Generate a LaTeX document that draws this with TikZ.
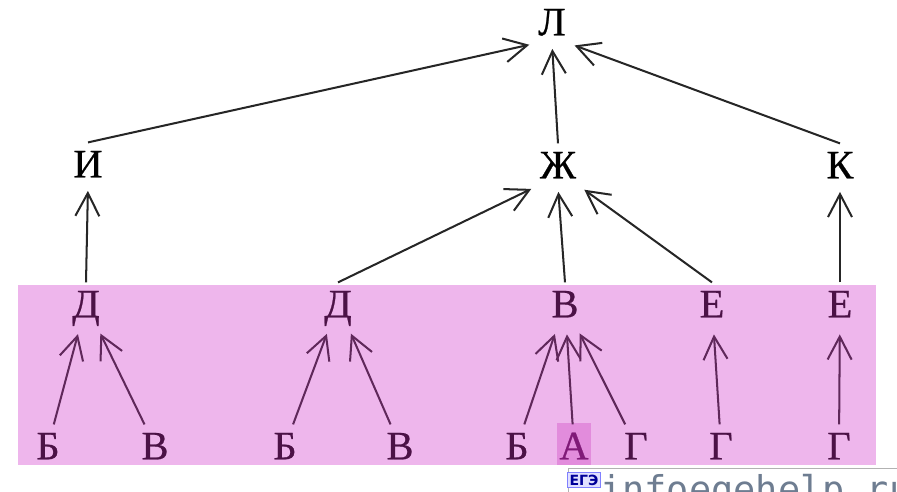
\documentclass[tikz,border=0pt]{standalone}
\usepackage{fontspec}
\setmainfont{Liberation Serif}
\newfontfamily\letterfont{Liberation Serif}[FakeBold=0.6]
\newfontfamily\wmfont{DejaVu Sans Mono}
\newfontfamily\logofont{DejaVu Sans}
\usetikzlibrary{arrows.meta}
\definecolor{bandpink}{RGB}{238,182,236}
\definecolor{markpink}{RGB}{226,140,220}
\definecolor{plum}{RGB}{75,18,70}
\definecolor{plumline}{RGB}{95,40,90}
\definecolor{apink}{RGB}{128,26,120}
\definecolor{wmgray}{RGB}{110,125,145}

\begin{document}
\begin{tikzpicture}[
    x=0.02cm, y=-0.02cm,
    letter/.style={inner xsep=2pt, inner ysep=4.5pt, text height=15.2pt, text depth=0pt,
                   font=\letterfont\fontsize{23}{26}\selectfont},
    inband/.style={letter, text=plum},
    arr/.style={-{Straight Barb[length=4.6mm, width=4.8mm]}, line width=1.15pt,
                color=black!85, shorten >=3pt},
    barr/.style={arr, color=plumline, shorten >=5pt}
]
\useasboundingbox (0,0) rectangle (897,491);

% pink band and the marked leaf
\fill[bandpink] (18,285) rectangle (876,465);
\fill[markpink] (557,423) rectangle (591,465);

\node[letter] (L)  at (552,22)  {Л};
\node[letter] (I)  at (88,164)  {И};
\node[letter] (Zh) at (558,165) {Ж};
\node[letter] (K)  at (840,165) {К};

\node[inband] (D1) at (86,304)  {Д};
\node[inband] (D2) at (338,304) {Д};
\node[inband] (V1) at (565,304) {В};
\node[inband] (E1) at (712,304) {Е};
\node[inband] (E2) at (840,304) {Е};

\node[inband] (B1) at (48,446)  {Б};
\node[inband] (V2) at (155,446) {В};
\node[inband] (B2) at (285,446) {Б};
\node[inband] (V3) at (400,446) {В};
\node[inband] (B3) at (517,446) {Б};
\node[inband, text=apink] (A) at (574,446) {А};
\node[inband] (G1) at (636,446) {Г};
\node[inband] (G2) at (721,446) {Г};
\node[inband] (G3) at (839,446) {Г};

\draw[arr] (I.north)  -- (L.south west);
\draw[arr] (Zh.north) -- (L.south);
\draw[arr] (K.north)  -- (L.south east);

\draw[arr] (D1.north) -- (I.south);
\draw[arr] (D2.north) -- (Zh.south west);
\draw[arr] (V1.north) -- (Zh.south);
\draw[arr] (E1.north) -- (Zh.south east);
\draw[arr] (E2.north) -- (K.south);

\draw[barr] (B1) -- (D1);
\draw[barr] (V2) -- (D1);
\draw[barr] (B2) -- (D2);
\draw[barr] (V3) -- (D2);
\draw[barr] (B3) -- (V1);
\draw[barr] (A)  -- (V1);
\draw[barr] (G1) -- (V1);
\draw[barr] (G2) -- (E1);
\draw[barr] (G3) -- (E2);

% watermark, cut by the page edge
\draw[gray!60, fill=white] (568,468) rectangle (910,510);
\node[font=\logofont\bfseries\fontsize{8}{8}\selectfont, text=blue!60!black,
      fill=blue!12, draw=blue!50, inner sep=1.2pt] (logo) at (584,480) {ЕГЭ};
\node[anchor=base west, inner sep=0pt, text=wmgray,
      font=\wmfont\fontsize{21}{24}\selectfont] (wm) at (600,502) {infoegehelp.ru};

\end{tikzpicture}
\end{document}
